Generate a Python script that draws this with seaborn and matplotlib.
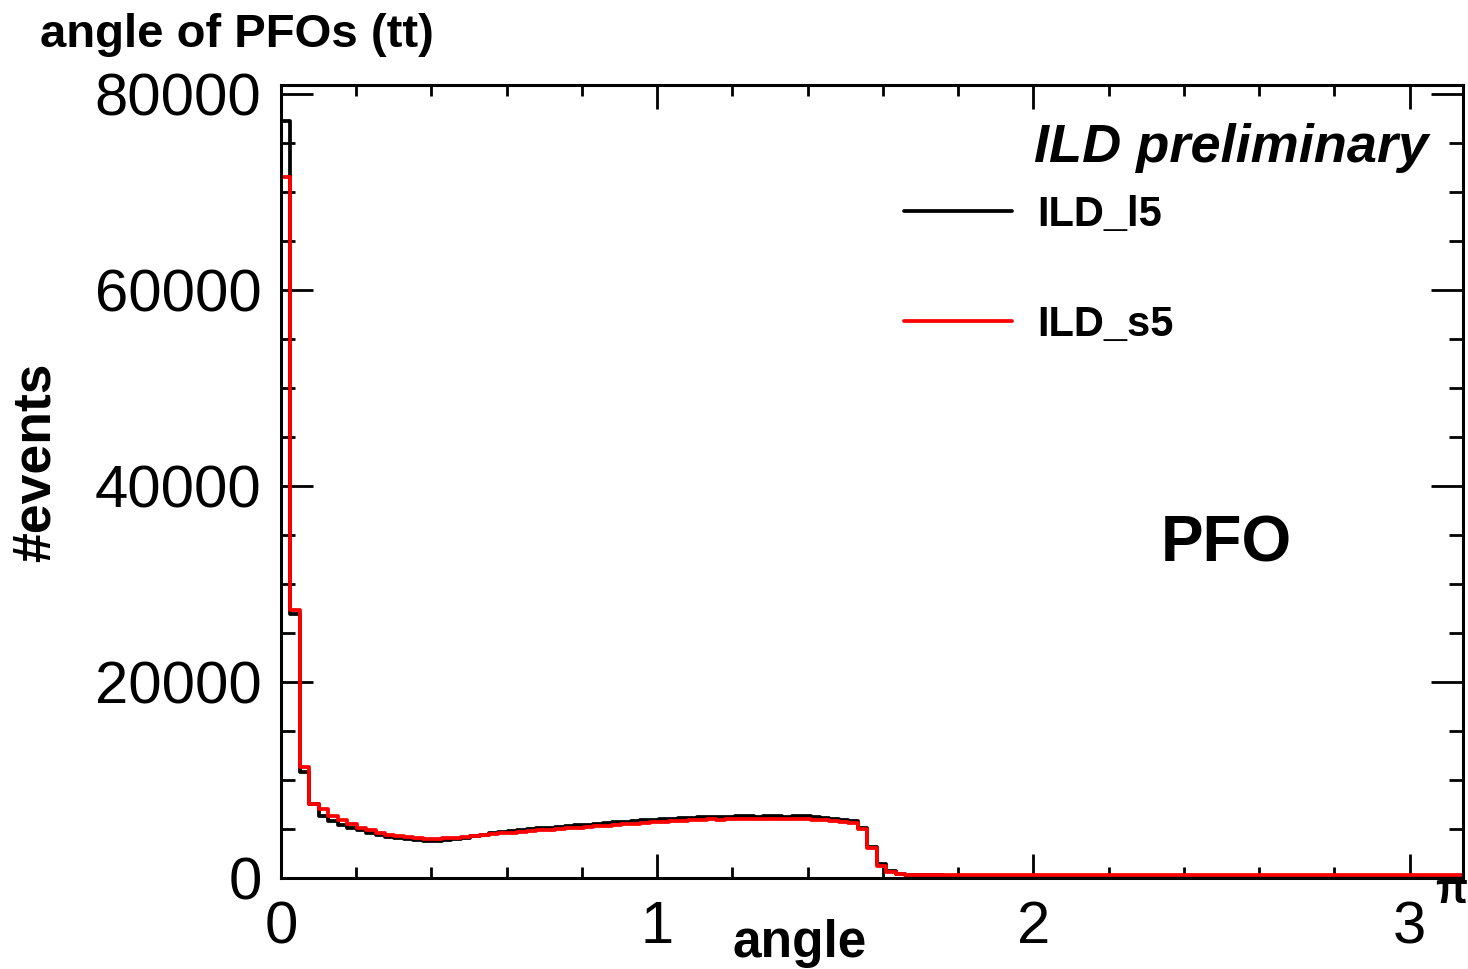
import numpy as np
import pandas as pd
import matplotlib
matplotlib.use("Agg")
import matplotlib.pyplot as plt
from matplotlib.lines import Line2D
from matplotlib.ticker import MultipleLocator
import seaborn as sns

# 125 equal bins in the polar angle, 0 .. pi
n_bins = 125
edges = np.linspace(0.0, np.pi, n_bins + 1)
centers = 0.5 * (edges[:-1] + edges[1:])

# ILD_l5 (large detector) PFO counts per bin
ild_l5_head = [
    77200, 26900, 10800, 7500, 6300, 5800, 5450, 5150, 4850, 4600,
    4400, 4200, 4050, 3950, 3850, 3800, 3800, 3850, 3950, 4100,
    4250, 4400, 4550, 4650, 4750, 4850, 4950, 5050, 5150, 5250,
    5300, 5400, 5450, 5550, 5600, 5700, 5750, 5800, 5900, 5950,
    6000, 6050, 6100, 6150, 6200, 6200, 6250, 6250, 6300, 6300,
    6250, 6300, 6300, 6250, 6300, 6300, 6250, 6150, 6050, 5950,
    5850, 5150, 3200, 1400, 720, 450, 330, 290, 270, 260, 250,
]
ild_l5_tail = [
    250, 250, 250, 250, 250, 250, 250, 250, 250, 250, 250, 250, 250, 250,
    250, 250, 250, 250, 250, 250, 250, 250, 250, 250, 250, 250, 250, 250,
    250, 250, 250, 250, 250, 250, 250, 250, 250, 250, 250, 250, 250, 250,
    250, 250, 250, 250, 250, 250, 250, 250, 250, 250, 250, 250,
]

# ILD_s5 (small detector) PFO counts per bin
ild_s5_head = [
    71500, 27300, 11300, 7600, 7000, 6300, 5900, 5500, 5150, 4850,
    4600, 4400, 4250, 4150, 4050, 4000, 4000, 4050, 4100, 4200,
    4300, 4350, 4450, 4550, 4600, 4700, 4750, 4850, 4900, 5000,
    5050, 5150, 5200, 5300, 5350, 5450, 5500, 5550, 5650, 5700,
    5750, 5800, 5850, 5900, 5950, 6000, 5950, 6050, 6000, 6050,
    6000, 6050, 6000, 6000, 6050, 6000, 5950, 5900, 5850, 5750,
    5650, 5000, 3050, 1250, 650, 420, 340, 310, 300, 300, 300,
]
ild_s5_tail = [
    300, 300, 300, 300, 300, 300, 300, 300, 300, 300, 300, 300, 300, 300,
    300, 300, 300, 300, 300, 300, 300, 300, 300, 300, 300, 300, 300, 300,
    300, 300, 300, 300, 300, 300, 300, 300, 300, 300, 300, 300, 300, 300,
    300, 300, 300, 300, 300, 300, 300, 300, 300, 300, 300, 300,
]

ild_l5 = np.array(ild_l5_head + ild_l5_tail, dtype=float)
ild_s5 = np.array(ild_s5_head + ild_s5_tail, dtype=float)

x_ticks = [0, 1, 2, 3]
x_tick_labels = ["0", "1", "2", "3"]
y_ticks = [0, 20000, 40000, 60000, 80000]
y_tick_labels = ["0", "20000", "40000", "60000", "80000"]

df_l5 = pd.DataFrame({"angle": centers, "count": ild_l5})
df_s5 = pd.DataFrame({"angle": centers, "count": ild_s5})

sns.set_style("ticks")
plt.rcParams["font.family"] = ["Liberation Sans", "DejaVu Sans"]
plt.rcParams["text.color"] = "black"
plt.rcParams["xtick.color"] = "black"
plt.rcParams["ytick.color"] = "black"
plt.rcParams["axes.labelcolor"] = "black"

fig = plt.figure(figsize=(14.68, 9.69), dpi=100)
ax = fig.add_axes([281 / 1468, 1 - 878 / 969, (1463 - 281) / 1468, (878 - 85) / 969])

hist_kw = dict(x="angle", weights="count", bins=edges.tolist(), element="step",
               fill=False, linewidth=2.7, ax=ax)
sns.histplot(data=df_l5, color="black", **hist_kw)
sns.histplot(data=df_s5, color="#ff0000", **hist_kw)

ax.set_xlim(0, np.pi)
ax.set_ylim(0, 80900)
ax.set_xlabel("")
ax.set_ylabel("")

ax.set_xticks(x_ticks)
ax.set_xticklabels(x_tick_labels)
ax.set_yticks(y_ticks)
ax.set_yticklabels(y_tick_labels)
ax.xaxis.set_minor_locator(MultipleLocator(0.2))
ax.yaxis.set_minor_locator(MultipleLocator(5000))

for side in ["left", "right", "top", "bottom"]:
    ax.spines[side].set_visible(True)
    ax.spines[side].set_linewidth(2.2)
    ax.spines[side].set_color("black")

ax.tick_params(axis="x", which="major", direction="in", length=17, width=2.0,
               top=True, bottom=True, labelsize=43, pad=16)
ax.tick_params(axis="x", which="minor", direction="in", length=8, width=2.0,
               top=True, bottom=True)
ax.tick_params(axis="y", which="major", direction="in", length=23, width=2.0,
               left=True, right=True, labelsize=43, pad=14)
ax.tick_params(axis="y", which="minor", direction="in", length=10, width=2.0,
               left=True, right=True)

# titles and annotations
fig.text(40 / 1468, 1 - 47 / 969, "angle of PFOs (tt)", fontsize=34,
         fontweight="bold", ha="left", va="baseline")
fig.text(36 / 1468, 1 - 462 / 969, "#events", fontsize=38.5, fontweight="bold",
         rotation=90, ha="center", va="center")
fig.text(800 / 1468, 1 - 957 / 969, "angle", fontsize=37, fontweight="bold",
         ha="center", va="baseline")
fig.text(1451 / 1468, 1 - 903 / 969, "π", fontsize=30, fontweight="bold",
         ha="center", va="baseline")
fig.text(1428 / 1468, 1 - 162 / 969, "ILD preliminary", fontsize=39,
         fontweight="bold", fontstyle="italic", ha="right", va="baseline")
fig.text(1226 / 1468, 1 - 561 / 969, "PFO", fontsize=46, fontweight="bold",
         ha="center", va="baseline")

handles = [Line2D([], [], color="black", linewidth=2.7),
           Line2D([], [], color="#ff0000", linewidth=2.7)]
ax.legend(handles, ["ILD_l5", "ILD_s5"], loc="upper left",
          bbox_to_anchor=(904 / 1468, 1 - 195 / 969), bbox_transform=fig.transFigure,
          frameon=False, handlelength=2.6, handletextpad=0.6, labelspacing=1.68,
          borderpad=0, borderaxespad=0,
          prop={"size": 30, "weight": "bold"})

fig.savefig("out.png", dpi=100)
